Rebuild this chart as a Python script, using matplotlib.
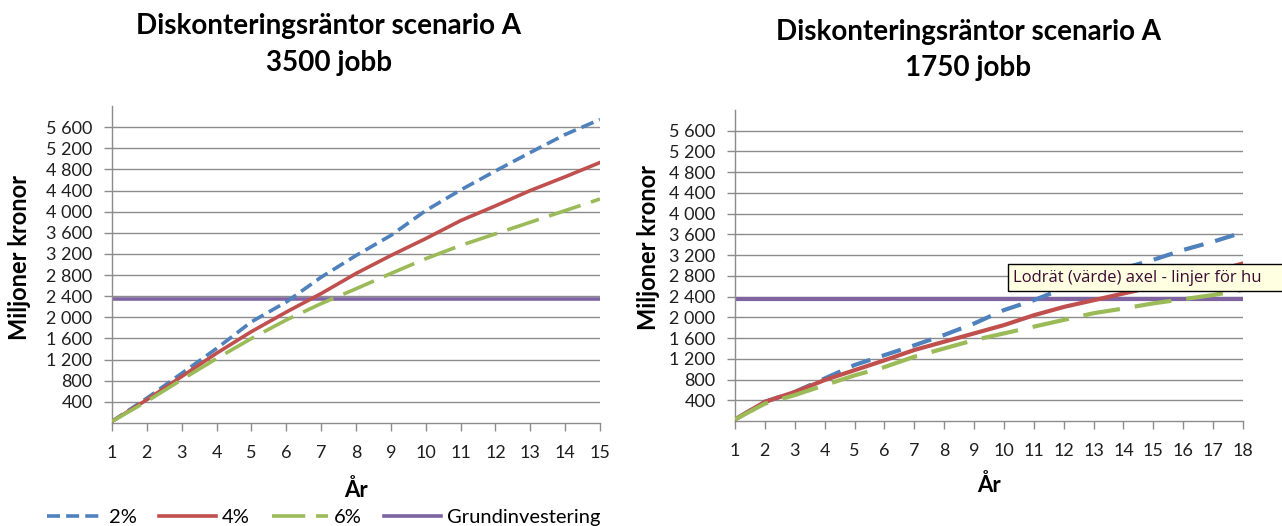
import matplotlib
matplotlib.use('Agg')
import matplotlib.pyplot as plt
from matplotlib.lines import Line2D
from matplotlib.patches import Rectangle
from matplotlib.ticker import FuncFormatter

plt.rcParams['font.family'] = ['Lato', 'DejaVu Sans']

# ------------------------------------------------------------------
# Data (miljoner kronor per år)
# ------------------------------------------------------------------
years_a = list(range(1, 16))
r2_a = [30, 470, 940, 1410, 1915, 2290, 2760, 3170, 3550, 4020, 4410, 4770, 5120, 5460, 5745]
r4_a = [30, 440, 880, 1320, 1730, 2100, 2450, 2830, 3170, 3490, 3830, 4110, 4400, 4660, 4930]
r6_a = [30, 410, 820, 1220, 1600, 1950, 2260, 2540, 2830, 3110, 3360, 3580, 3800, 4020, 4240]

years_b = list(range(1, 19))
r2_b = [30, 370, 560, 820, 1080, 1270, 1460, 1660, 1880, 2140, 2330, 2560, 2750, 2945, 3110, 3300, 3460, 3640]
r4_b = [30, 370, 560, 790, 980, 1170, 1370, 1530, 1690, 1850, 2040, 2200, 2330, 2460, 2590, 2720, 2880, 3040]
r6_b = [30, 335, 500, 690, 880, 1040, 1240, 1400, 1560, 1690, 1820, 1950, 2080, 2170, 2270, 2350, 2430, 2530]

grundinvestering = 2350

y_ticks = list(range(400, 5601, 400))
series_labels = ['2%', '4%', '6%', 'Grundinvestering']

# colours (Excel 2007 palette)
c2, c4, c6, cg = '#4F81BD', '#C0504D', '#9BBB59', '#8064A2'
grid_col = '#8C8C8C'
txt_col = '#1f1f1f'

W, H = 1282, 526


def thousands(v, pos):
    return f"{int(v):,}".replace(',', ' ')


def draw_panel(ax, years, r2, r4, r6, lw, dash2, dash6):
    ax.set_xlim(years[0], years[-1])
    ax.set_ylim(0, 6000)
    for t in y_ticks:
        ax.axhline(t, color=grid_col, lw=1.0, zorder=0)
    ax.plot(years, r2, color=c2, lw=lw, linestyle=dash2, zorder=3)
    ax.plot(years, r4, color=c4, lw=lw, zorder=3)
    ax.plot(years, r6, color=c6, lw=lw, linestyle=dash6, zorder=3)
    ax.plot([years[0], years[-1]], [grundinvestering, grundinvestering],
            color=cg, lw=lw, zorder=2)

    ax.set_xticks(years)
    ax.set_yticks(y_ticks)
    ax.yaxis.set_major_formatter(FuncFormatter(thousands))
    for s in ['top', 'right']:
        ax.spines[s].set_visible(False)
    for s in ['left', 'bottom']:
        ax.spines[s].set_color(grid_col)
        ax.spines[s].set_linewidth(1.0)
    ax.tick_params(axis='both', colors=grid_col, length=6, width=1.0,
                   labelcolor=txt_col, labelsize=13)
    ax.tick_params(axis='x', pad=10)
    ax.tick_params(axis='y', pad=8)
    ax.set_ylabel('Miljoner kronor', fontsize=17, fontweight='bold',
                  va='center', color='black')
    ax.set_xlabel('År', fontsize=16, fontweight='bold', va='center',
                  color='black')


fig = plt.figure(figsize=(W / 100, H / 100), dpi=100)

# left panel: 3500 jobb
lw_a = 2.6
dash2_a = (0, (3.6, 1.7))
dash6_a = (0, (9.2, 3.0))
ax1 = fig.add_axes([112 / W, 1 - 423 / H, 488 / W, 317 / H])
draw_panel(ax1, years_a, r2_a, r4_a, r6_a, lw_a, dash2_a, dash6_a)
ax1.yaxis.set_label_coords((20 - 112) / 488, (423 - 258) / 317)
ax1.xaxis.set_label_coords(0.5, (423 - 490) / 317)

# right panel: 1750 jobb
lw_b = 3.0
dash2_b = (0, (4.8, 2.9))
dash6_b = (0, (8.9, 3.6))
ax2 = fig.add_axes([735 / W, 1 - 421 / H, 508 / W, 311 / H])
draw_panel(ax2, years_b, r2_b, r4_b, r6_b, lw_b, dash2_b, dash6_b)
ax2.yaxis.set_label_coords((648 - 735) / 508, (421 - 247) / 311)
ax2.xaxis.set_label_coords((989 - 735) / 508, (421 - 485) / 311)

# titles
for x, y, s in [(329, 26, 'Diskonteringsräntor scenario A'), (329, 63, '3500 jobb'),
                (968, 32, 'Diskonteringsräntor scenario A'), (968, 68, '1750 jobb')]:
    fig.text(x / W, 1 - y / H, s, ha='center', va='center',
             fontsize=20, fontweight='bold', color='black')

# legend under left chart
handles = [
    Line2D([], [], color=c2, lw=lw_a, linestyle=dash2_a),
    Line2D([], [], color=c4, lw=lw_a),
    Line2D([], [], color=c6, lw=lw_a, linestyle=dash6_a),
    Line2D([], [], color=cg, lw=lw_a),
]
fig.legend(handles, series_labels, ncol=4, loc='center left',
           bbox_to_anchor=(47 / W, 1 - 517 / H), frameon=False,
           borderpad=0, borderaxespad=0, fontsize=14.5, handlelength=2.8,
           handletextpad=0.3, columnspacing=1.1)

# hover tooltip visible in the screenshot (cut by the right edge)
fig.patches.append(Rectangle((1008 / W, 1 - 291 / H), 290 / W, 27 / H,
                             transform=fig.transFigure, fc='#FFFFE1',
                             ec='black', lw=1.0, zorder=10, clip_on=False))
fig.text(1013 / W, 1 - 278 / H, 'Lodrät (värde) axel - linjer för hu',
         ha='left', va='center', fontsize=12, color='#3d0c36',
         family=['Open Sans', 'DejaVu Sans'], zorder=11)

fig.savefig('out.png', dpi=100)
